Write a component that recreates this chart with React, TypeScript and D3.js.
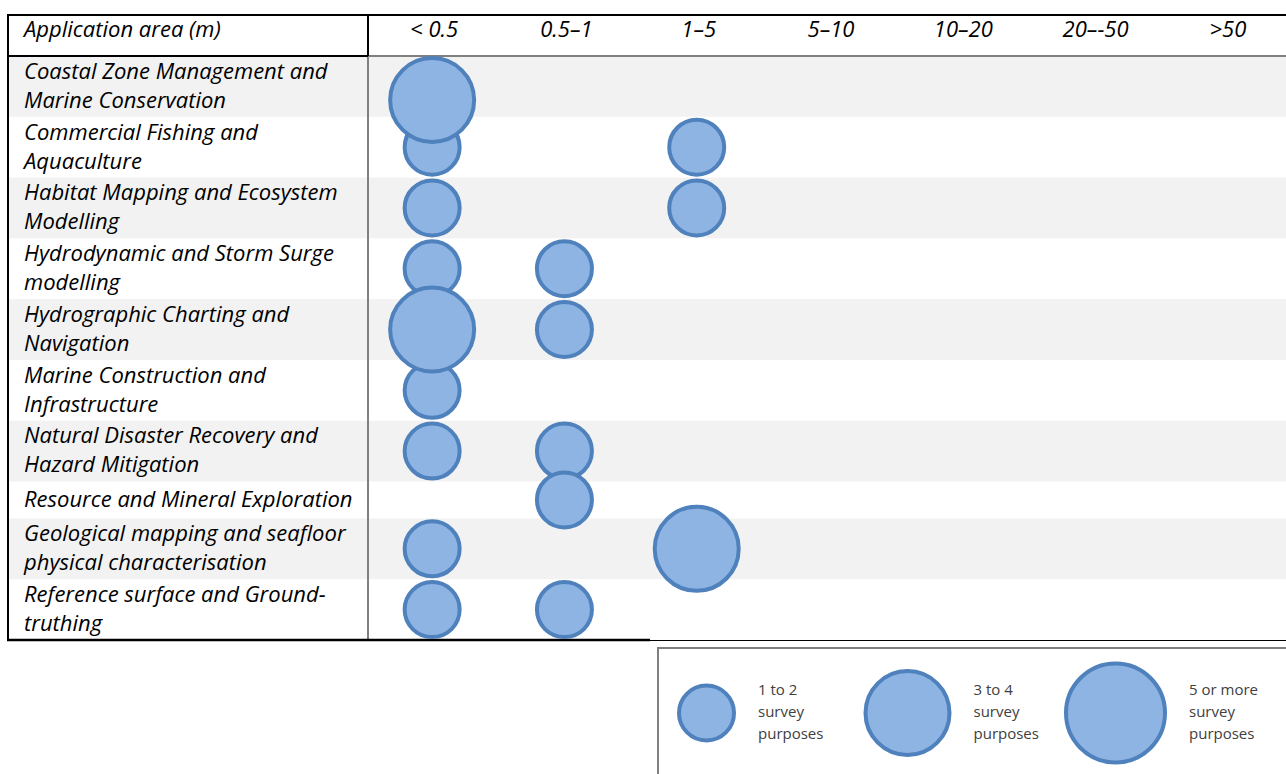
import React from "react";
import * as d3 from "d3";

// ---------- data ----------
const columnLabels = ["< 0.5", "0.5–1", "1–5", "5–10", "10–20", "20–-50", ">50"];
const headerLabel = "Application area (m)";

const applicationAreas: string[][] = [
  ["Coastal Zone Management and", "Marine Conservation"],
  ["Commercial Fishing and", "Aquaculture"],
  ["Habitat Mapping and Ecosystem", "Modelling"],
  ["Hydrodynamic and Storm Surge", "modelling"],
  ["Hydrographic Charting and", "Navigation"],
  ["Marine Construction and", "Infrastructure"],
  ["Natural Disaster Recovery and", "Hazard Mitigation"],
  ["Resource and Mineral Exploration"],
  ["Geological mapping and seafloor", "physical characterisation"],
  ["Reference surface and Ground-", "truthing"],
];

const sizeClasses = ["1 to 2", "3 to 4", "5 or more"];

// one entry per bubble: application area index, resolution column, size class
const bubbleArea = [0, 1, 1, 2, 2, 3, 3, 4, 4, 5, 6, 6, 7, 8, 8, 9, 9];
const bubbleColumn = ["< 0.5", "< 0.5", "1–5", "< 0.5", "1–5", "< 0.5", "0.5–1", "< 0.5", "0.5–1", "< 0.5", "< 0.5", "0.5–1", "0.5–1", "< 0.5", "1–5", "< 0.5", "0.5–1"];
const bubbleClass = ["3 to 4", "1 to 2", "1 to 2", "1 to 2", "1 to 2", "1 to 2", "1 to 2", "3 to 4", "1 to 2", "1 to 2", "1 to 2", "1 to 2", "1 to 2", "1 to 2", "3 to 4", "1 to 2", "1 to 2"];

// ---------- layout ----------
const W = 1286;
const H = 774;
const tableLeft = 8;
const tableRight = 1286;
const tableTop = 15;
const headerBottom = 56;
const tableBottom = 640;
const labelColRight = 368;
const oneLineRowH = 37;
const strokeW = 4;

const FILL = "#8EB4E3";
const STROKE = "#4F81BD";
const BAND = "#F2F2F2";
const FONT = "'Open Sans', 'Noto Sans', sans-serif";

export default function App() {
  const twoLineRows = applicationAreas.filter((l) => l.length > 1).length;
  const oneLineRows = applicationAreas.length - twoLineRows;
  const twoLineRowH = (tableBottom - headerBottom - oneLineRows * oneLineRowH) / twoLineRows;
  const heights = applicationAreas.map((l) => (l.length > 1 ? twoLineRowH : oneLineRowH));
  const tops = heights.map((_, i) => headerBottom + d3.sum(heights.slice(0, i)));

  const x = d3.scaleBand<string>().domain(columnLabels).range([labelColRight, 1294]);
  const r = d3.scaleOrdinal<string, number>().domain(sizeClasses).range([27.5, 42, 49.5]);

  const bubbles = bubbleArea
    .map((a, i) => {
      const rad = r(bubbleClass[i]);
      const rowCenter = tops[a] + heights[a] / 2;
      const cy = Math.max(rowCenter, headerBottom + rad + strokeW / 2);
      return {
        key: i,
        cx: (x(bubbleColumn[i]) as number) + x.bandwidth() / 2 - 2,
        cy,
        rad,
      };
    })
    .sort((p, q) => d3.ascending(p.rad, q.rad));

  const fontSize = 22;
  const lineH = 29;

  // legend
  const legendX = 658;
  const legendY = 648;
  const legendTextX0 = 758;
  const legendStep = 215.5;
  const legendCy = 713;

  return (
    <svg
      width={W}
      height={H}
      style={{ position: "absolute", left: 0, top: 0, background: "#fff" }}
      fontFamily={FONT}
    >
      <rect x={0} y={0} width={W} height={H} fill="#fff" />
      {/* banded rows */}
      {applicationAreas.map((_, i) =>
        i % 2 === 0 ? (
          <rect key={"b" + i} x={tableLeft} y={tops[i]} width={tableRight - tableLeft} height={heights[i]} fill={BAND} />
        ) : null
      )}

      {/* grid lines */}
      <line x1={labelColRight} x2={labelColRight} y1={headerBottom} y2={tableBottom} stroke="#808080" strokeWidth={2} />
      <line x1={labelColRight} x2={tableRight} y1={headerBottom} y2={headerBottom} stroke="#808080" strokeWidth={2} />
      <line x1={tableLeft} x2={labelColRight} y1={headerBottom} y2={headerBottom} stroke="#000" strokeWidth={2} />
      <line x1={labelColRight} x2={labelColRight} y1={tableTop} y2={headerBottom} stroke="#000" strokeWidth={2} />
      <line x1={tableLeft - 1} x2={tableRight} y1={tableTop} y2={tableTop} stroke="#000" strokeWidth={2} />
      <line x1={tableLeft} x2={tableLeft} y1={tableTop} y2={tableBottom + 1} stroke="#000" strokeWidth={2} />
      <line x1={tableLeft - 1} x2={650} y1={tableBottom} y2={tableBottom} stroke="#000" strokeWidth={2.5} />
      <line x1={650} x2={tableRight} y1={tableBottom + 0.5} y2={tableBottom + 0.5} stroke="#000" strokeWidth={1} />

      {/* header */}
      <text x={24} y={headerBottom - 25} fontSize={fontSize} fontStyle="italic" dominantBaseline="middle" fill="#000">
        {headerLabel}
      </text>
      {columnLabels.map((c) => (
        <text
          key={c}
          x={(x(c) as number) + x.bandwidth() / 2}
          y={headerBottom - 25}
          fontSize={fontSize}
          fontStyle="italic"
          textAnchor="middle"
          dominantBaseline="middle"
          fill="#000"
        >
          {c}
        </text>
      ))}

      {/* row labels */}
      {applicationAreas.map((lines, i) => {
        const c = tops[i] + heights[i] / 2;
        const start = c - ((lines.length - 1) * lineH) / 2;
        return lines.map((ln, j) => (
          <text
            key={"l" + i + "-" + j}
            x={24}
            y={start + j * lineH + 1}
            fontSize={fontSize}
            fontStyle="italic"
            dominantBaseline="middle"
            fill="#000"
          >
            {ln}
          </text>
        ));
      })}

      {/* bubbles */}
      {bubbles.map((b) => (
        <circle key={b.key} cx={b.cx} cy={b.cy} r={b.rad} fill={FILL} stroke={STROKE} strokeWidth={strokeW} />
      ))}

      {/* legend */}
      <rect x={legendX} y={legendY} width={W - legendX + 10} height={H - legendY + 10} fill="#fff" stroke="#7F7F7F" strokeWidth={2} />
      {sizeClasses.map((s, i) => {
        const tx = legendTextX0 + i * legendStep;
        const rad = r(s);
        const cx = tx - 22 - rad - strokeW / 2;
        const lines = [s, "survey", "purposes"];
        return (
          <g key={"lg" + i}>
            <circle cx={cx} cy={legendCy} r={rad} fill={FILL} stroke={STROKE} strokeWidth={strokeW} />
            {lines.map((ln, j) => (
              <text key={j} x={tx} y={691 + j * 22} fontSize={15} dominantBaseline="middle" fill="#404040">
                {ln}
              </text>
            ))}
          </g>
        );
      })}
    </svg>
  );
}
